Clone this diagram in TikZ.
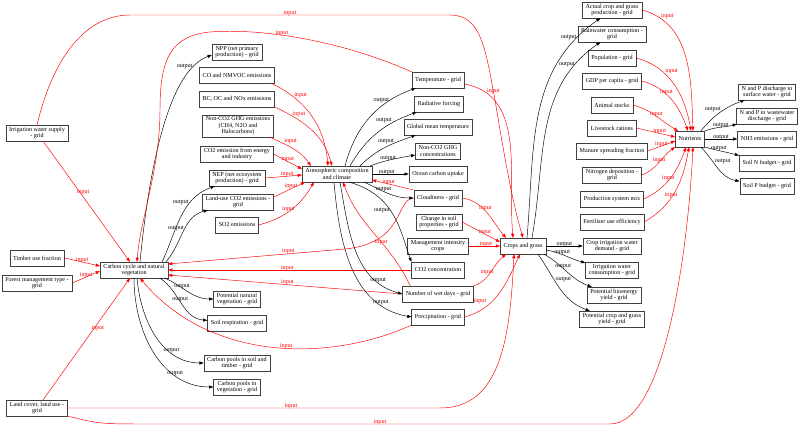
\documentclass[tikz,border=0pt]{standalone}
\usepackage{fontspec}
\setmainfont{Liberation Serif}
\usetikzlibrary{arrows.meta,positioning,calc}

\tikzset{
  box/.style={draw=black!75, line width=0.4pt, fill=white, align=center,
    font=\fontsize{5.2}{5.5}\selectfont, inner xsep=2.8pt, inner ysep=1.5pt,
    minimum height=13.4pt, minimum width=20pt},
  outedge/.style={draw=black, line width=0.4pt, -{Triangle[length=3.6pt,width=2.6pt]}},
  inedge/.style={draw=red, line width=0.4pt, -{Triangle[length=3.6pt,width=2.6pt]}},
  outlbl/.style={font=\fontsize{5.2}{5.5}\selectfont, text=black, inner sep=0.5pt},
  inlbl/.style={font=\fontsize{5.2}{5.5}\selectfont, text=red, inner sep=0.5pt},
}

\begin{document}
\begin{tikzpicture}[x=0.03cm,y=0.03cm]
\useasboundingbox (0,0) rectangle (800,-426);

% Drivers on the left
\node[box] (irr) at (37,-133) {Irrigation water supply\\- grid};
\node[box] (timber) at (37,-258) {Timber use fraction};
\node[box] (forest) at (37,-283) {Forest management type -\\grid};
\node[box] (landcover) at (37,-408) {Land cover, land use -\\grid};

% Carbon cycle and its neighbours
\node[box] (carbon) at (134,-270) {Carbon cycle and natural\\vegetation};
\node[box] (npp) at (237,-52) {NPP (net primary\\production) - grid};
\node[box] (co) at (237,-75) {CO and NMVOC emissions};
\node[box] (bc) at (237,-99) {BC, OC and NOx emissions};
\node[box] (nonco2) at (238,-126) {Non-CO2 GHG emissions\\(CH4, N2O and\\Halocarbons)};
\node[box] (co2e) at (237,-154) {CO2 emission from energy\\and industry};
\node[box] (nep) at (237,-178) {NEP (net ecosystem\\production) - grid};
\node[box] (luco2) at (238,-202) {Land-use CO2 emissions -\\grid};
\node[box] (so2) at (237,-225) {SO2 emissions};
\node[box] (potnat) at (237,-299) {Potential natural\\vegetation - grid};
\node[box] (soilresp) at (237,-323) {Soil respiration - grid};
\node[box] (cpsoil) at (237,-363) {Carbon pools in soil and\\timber - grid};
\node[box] (cpveg) at (237,-387) {Carbon pools in\\vegetation - grid};

% Atmosphere and climate
\node[box] (atmos) at (337,-174) {Atmospheric composition\\and climate};
\node[box] (temp) at (438,-80) {Temperature - grid};
\node[box] (radf) at (439,-104) {Radiative forcing};
\node[box] (gmt) at (438,-127) {Global mean temperature};
\node[box] (nonco2c) at (438,-151) {Non-CO2 GHG\\concentrations};
\node[box] (ocean) at (438,-174) {Ocean carbon uptake};
\node[box] (cloud) at (438,-198) {Cloudiness - grid};
\node[box] (soilprop) at (439,-222) {Change in soil\\properties - grid};
\node[box] (mgmt) at (438,-246) {Management intensity\\crops};
\node[box] (co2c) at (438,-270) {CO2 concentration};
\node[box] (wetdays) at (438,-294) {Number of wet days - grid};
\node[box] (precip) at (438,-317) {Precipitation - grid};

% Crops and grass
\node[box] (crops) at (523,-246) {Crops and grass};
\node[box] (actual) at (612,-10) {Actual crop and grass\\production - grid};
\node[box] (rain) at (612,-34) {Rainwater consumption -\\grid};
\node[box] (pop) at (612,-58) {Population - grid};
\node[box] (gdp) at (612,-81) {GDP per capita - grid};
\node[box] (animal) at (612,-105) {Animal stocks};
\node[box] (livestock) at (612,-128) {Livestock rations};
\node[box] (manure) at (612,-151) {Manure spreading fraction};
\node[box] (ndep) at (612,-175) {Nitrogen deposition -\\grid};
\node[box] (prodsys) at (612,-199) {Production system mix};
\node[box] (fert) at (612,-222) {Fertiliser use efficiency};
\node[box] (cropirr) at (612,-246) {Crop irrigation water\\demand - grid};
\node[box] (irrcons) at (612,-270) {Irrigation water\\consumption - grid};
\node[box] (potbio) at (614,-295) {Potential bioenergy\\yield - grid};
\node[box] (potcrop) at (612,-319) {Potential crop and grass\\yield - grid};

% Nutrients
\node[box] (nutrients) at (690,-139) {Nutrients};
\node[box] (npsurf) at (767,-92) {N and P discharge to\\surface water - grid};
\node[box] (npwaste) at (767,-116) {N and P in wastewater\\discharge - grid};
\node[box] (nh3) at (767,-139) {NH3 emissions - grid};
\node[box] (soiln) at (767,-163) {Soil N budget - grid};
\node[box] (soilp) at (767,-186) {Soil P budget - grid};

% Carbon cycle outputs
\draw[outedge] ($(carbon.north)+(6,0)$) .. controls (150,-160) and (170,-70) .. node[outlbl,pos=0.83,above left=-1pt]{output} ($(npp.west)+(0,-3)$);
\draw[outedge] ($(carbon.north east)+(-6,0)$) to[out=65,in=200] node[outlbl,pos=0.65,above left=-1pt]{output} (nep);
\draw[outedge] ($(carbon.north east)+(-2,0)$) to[out=50,in=195] node[outlbl,pos=0.5,above left=-1pt]{output} (luco2);
\draw[outedge] ($(carbon.south east)+(-3,0)$) to[out=-25,in=180] node[outlbl,pos=0.35,above=-1.5pt]{output} (potnat);
\draw[outedge] ($(carbon.south east)+(-8,0)$) to[out=-35,in=175] node[outlbl,pos=0.45,above=-1.5pt]{output} (soilresp);
\draw[outedge] ($(carbon.south)+(3,0)$) to[out=-85,in=180] node[outlbl,pos=0.7,above=-1pt]{output} (cpsoil);
\draw[outedge] (carbon.south) to[out=-90,in=180] node[outlbl,pos=0.72,above=-1pt]{output} (cpveg);

% Carbon cycle inputs
\draw[inedge] ($(irr.south)+(6,0)$) -- node[inlbl,pos=0.42,right=-3pt]{input} ($(carbon.north)+(-4,0)$);
\draw[inedge] (timber.east) -- node[inlbl,midway,above=-1pt]{input} ($(carbon.west)+(0,4)$);
\draw[inedge] (forest.east) -- node[inlbl,midway,above=-1pt]{input} ($(carbon.west)+(0,-1)$);
\draw[inedge] ($(landcover.north)+(6,0)$) -- node[inlbl,pos=0.59,right=-3pt]{input} ($(carbon.south)+(-4,0)$);
\draw[inedge] (temp.north west) .. controls (340,-40) and (260,-28) .. (210,-32)
  node[inlbl,pos=0.6,above=-1pt]{input}
  .. controls (170,-36) and (160,-60) .. (160,-110)
  .. controls (160,-170) and (140,-220) .. ($(carbon.north)+(3,0)$);
\draw[inedge] (cloud.west) .. controls (395,-200) and (405,-243) .. (345,-249)
  -- node[inlbl,pos=0.32,above=-1pt]{input} ($(carbon.east)+(0,6)$);
\draw[inedge] (co2c.west) -- node[inlbl,pos=0.51,above=-1pt]{input} (carbon.east);
\draw[inedge] (wetdays.west) -- node[inlbl,pos=0.49,above=-1pt]{input} ($(carbon.east)+(0,-5)$);
\draw[inedge] (precip.south west) .. controls (330,-362) and (210,-362) .. node[inlbl,pos=0.45,above=-1pt]{input} ($(carbon.south)+(6,0)$);

% Atmosphere inputs
\draw[inedge] ($(co.south east)+(-4,0)$) to[out=-25,in=95] node[inlbl,pos=0.25,above right=-1pt]{input} ($(atmos.north)+(-9,0)$);
\draw[inedge] (bc.south east) to[out=-25,in=105] node[inlbl,pos=0.22,above right=-1pt]{input} ($(atmos.north)+(-5,0)$);
\draw[inedge] ($(nonco2.south east)+(-4,0)$) to[out=-25,in=125] node[inlbl,pos=0.3,above right=-1pt]{input} ($(atmos.north west)+(9,0)$);
\draw[inedge] (co2e.east) -- node[inlbl,pos=0.5,above=-1pt]{input} ($(atmos.west)+(0,5)$);
\draw[inedge] (nep.east) -- node[inlbl,pos=0.6,above=-1pt]{input} ($(atmos.west)+(0,-1)$);
\draw[inedge] ($(luco2.east)+(0,5)$) -- node[inlbl,pos=0.55,above=-1pt]{input} ($(atmos.south west)+(3,0)$);
\draw[inedge] (so2.east) to[out=15,in=-120] node[inlbl,pos=0.45,above=-1pt]{input} ($(atmos.south west)+(12,0)$);
\draw[inedge] (cloud.north west) -- node[inlbl,pos=0.6,above=-1pt]{input} ($(atmos.east)+(0,-6)$);
\draw[inedge] ($(wetdays.north west)+(8,0)$) to[out=115,in=-70] node[inlbl,pos=0.42]{input} ($(atmos.south)+(6,0)$);

% Atmosphere outputs
\draw[outedge] ($(atmos.north)+(8,0)$) to[out=75,in=200] node[outlbl,pos=0.75,left=0pt]{output} (temp);
\draw[outedge] ($(atmos.north)+(13,0)$) to[out=60,in=200] node[outlbl,pos=0.7,above left=-1pt]{output} (radf);
\draw[outedge] ($(atmos.north east)+(-12,0)$) to[out=45,in=200] node[outlbl,pos=0.65,above left=-1pt]{output} (gmt);
\draw[outedge] ($(atmos.north east)+(-2,0)$) to[out=20,in=190] node[outlbl,pos=0.4,above=-1pt]{output} (nonco2c);
\draw[outedge] (atmos.east) -- node[outlbl,pos=0.4,above=-1pt]{output} (ocean.west);
\draw[outedge] ($(atmos.south east)+(-8,0)$) to[out=-25,in=180] node[outlbl,pos=0.4,above=-1pt]{output} (cloud.west);
\draw[outedge] ($(atmos.south)+(12,0)$) .. controls (395,-195) and (400,-230) .. node[outlbl,pos=0.45,left=0pt]{output} (co2c.north west);
\draw[outedge] ($(atmos.south)+(3,0)$) to[out=-80,in=165] node[outlbl,pos=0.8,above=-1pt]{output} (wetdays.west);
\draw[outedge] ($(atmos.south)+(-3,0)$) to[out=-85,in=170] node[outlbl,pos=0.8,above=-1pt]{output} (precip.west);

% Crops inputs
\draw[inedge] (irr.north) .. controls (55,-50) and (90,-15) .. (130,-15)
  -- node[inlbl,midway,above=-1pt]{input} (450,-15)
  .. controls (480,-15) and (485,-45) .. (495,-100)
  .. controls (505,-160) and (512,-200) .. (crops.north);
\draw[inedge] ($(temp.east)+(0,-4)$) to[out=-10,in=95] node[inlbl,pos=0.15,above right=-1pt]{input} ($(crops.north)+(-10,0)$);
\draw[inedge] (cloud.east) to[out=-10,in=130] node[inlbl,pos=0.45,above=-1pt]{input} ($(crops.north west)+(6,0)$);
\draw[inedge] (soilprop.east) -- node[inlbl,pos=0.6,above=-1pt]{input} ($(crops.west)+(0,4)$);
\draw[inedge] (mgmt.east) -- node[inlbl,pos=0.55,above=-1pt]{input} (crops.west);
\draw[inedge] (wetdays.north east) to[out=20,in=-140] node[inlbl,pos=0.35,above=1pt]{input} ($(crops.south west)+(6,0)$);
\draw[inedge] (precip.east) to[out=15,in=-115] node[inlbl,pos=0.3,above left=1pt]{input} ($(crops.south)+(-3,0)$);
\draw[inedge] (landcover.east) -- node[inlbl,pos=0.6,above=-1pt]{input} (440,-408)
  .. controls (500,-408) and (510,-340) .. ($(crops.south)+(-9,0)$);

% Crops outputs
\draw[outedge] ($(crops.north)+(4,0)$) to[out=85,in=215] node[outlbl,pos=0.88,left=0pt]{output} (actual);
\draw[outedge] ($(crops.north)+(9,0)$) to[out=80,in=215] node[outlbl,pos=0.85,left=0pt]{output} (rain);
\draw[outedge] (crops.east) -- node[outlbl,midway,above=-1pt]{output} (cropirr.west);
\draw[outedge] ($(crops.east)+(0,-4)$) to[out=-10,in=165] node[outlbl,pos=0.4,above=-1pt]{output} (irrcons);
\draw[outedge] ($(crops.south east)+(-2,0)$) to[out=-30,in=160] node[outlbl,pos=0.4,above=-1pt]{output} (potbio);
\draw[outedge] ($(crops.south east)+(-8,0)$) to[out=-55,in=160] node[outlbl,pos=0.4,above right=-1pt]{output} (potcrop);

% Nutrients inputs
\draw[inedge] (actual.east) to[out=-15,in=92] node[inlbl,pos=0.15,above right=-1pt]{input} ($(nutrients.north)+(3,0)$);
\draw[inedge] (pop.east) to[out=-15,in=100] node[inlbl,pos=0.35,above right=-1pt]{input} ($(nutrients.north)+(1,0)$);
\draw[inedge] (gdp.east) to[out=-15,in=110] node[inlbl,pos=0.4,above=-1pt]{input} ($(nutrients.north)+(-2,0)$);
\draw[inedge] (animal.east) to[out=-15,in=150] node[inlbl,pos=0.5,above=-1pt]{input} ($(nutrients.north west)+(3,0)$);
\draw[inedge] (livestock.east) -- node[inlbl,pos=0.6,above=-1pt]{input} ($(nutrients.west)+(0,2)$);
\draw[inedge] (manure.east) -- node[inlbl,pos=0.5,above=-1pt]{input} ($(nutrients.west)+(0,-2)$);
\draw[inedge] (ndep.east) to[out=20,in=-145] node[inlbl,pos=0.5,above=-1pt]{input} (nutrients.south west);
\draw[inedge] (prodsys.east) to[out=25,in=-110] node[inlbl,pos=0.45,above=-1pt]{input} ($(nutrients.south)+(-4,0)$);
\draw[inedge] (fert.east) to[out=30,in=-100] node[inlbl,pos=0.4,above=-1pt]{input} ($(nutrients.south)+(-1,0)$);
\draw[inedge] (landcover.south east) .. controls (100,-424) .. (150,-424)
  -- node[inlbl,pos=0.5,above=-1pt]{input} (610,-424)
  .. controls (665,-424) and (688,-250) .. ($(nutrients.south)+(3,0)$);

% Nutrients outputs
\draw[outedge] ($(nutrients.north east)+(-4,0)$) to[out=50,in=200] node[outlbl,pos=0.5,above left=-1pt]{output} (npsurf);
\draw[outedge] (nutrients.north east) to[out=20,in=195] node[outlbl,pos=0.5,above=-1pt]{output} (npwaste);
\draw[outedge] (nutrients.east) -- node[outlbl,midway,above=-1pt]{output} (nh3.west);
\draw[outedge] (nutrients.south east) to[out=-15,in=165] node[outlbl,pos=0.4,above=-1pt]{output} (soiln);
\draw[outedge] ($(nutrients.south east)+(-4,0)$) to[out=-45,in=170] node[outlbl,pos=0.4,above right=-1pt]{output} (soilp);
\end{tikzpicture}
\end{document}
